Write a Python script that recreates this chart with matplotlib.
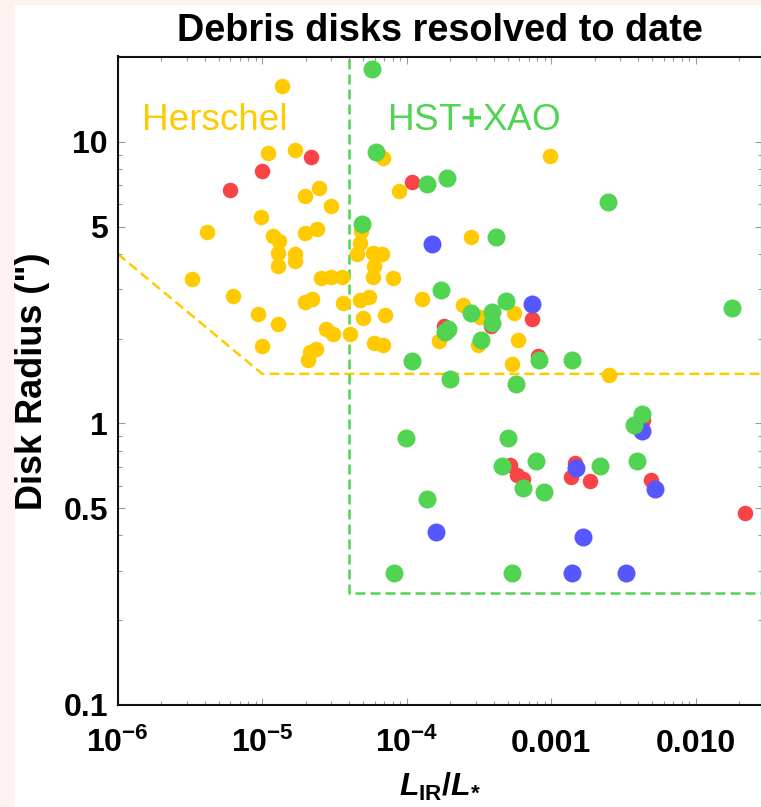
import matplotlib
matplotlib.use("Agg")
import matplotlib.pyplot as plt
from matplotlib.ticker import FixedLocator, FixedFormatter, LogLocator, NullFormatter
from matplotlib.patches import Rectangle

plt.rcParams.update({
    "font.family": ["Liberation Sans", "DejaVu Sans"],
    "font.weight": "bold",
    "mathtext.fontset": "custom",
    "mathtext.rm": "Liberation Sans:bold",
    "mathtext.it": "Liberation Sans:italic:bold",
    "mathtext.bf": "Liberation Sans:bold",
})

# ---- data: fractional luminosity L_IR/L_* and disk radius (arcsec) ----
herschel_x = [1.38e-5, 1.09e-5, 1.69e-5, 2.47e-5, 1.98e-5, 2.98e-5, 9.86e-6, 4.17e-6,
              1.19e-5, 1.31e-5, 1.98e-5, 2.38e-5, 1.28e-5, 1.69e-5, 1.28e-5, 1.69e-5,
              3.28e-6, 2.54e-5, 2.99e-5, 3.58e-5, 6.31e-6, 1.98e-5, 2.20e-5, 3.64e-5,
              9.4e-6, 1.29e-5, 2.76e-5, 3.10e-5, 4.05e-5, 9.92e-6, 2.36e-5, 2.14e-5,
              2.07e-5, 6.85e-5, 4.83e-5, 4.75e-5, 4.53e-5, 5.85e-5, 6.75e-5, 5.97e-5,
              5.85e-5, 8.07e-5, 4.75e-5, 5.51e-5, 4.98e-5, 7.08e-5, 5.97e-5, 6.89e-5,
              8.85e-5, 9.89e-4, 2.77e-4, 1.28e-4, 2.47e-4, 3.21e-4, 1.68e-4, 3.10e-4,
              5.53e-4, 5.89e-4, 5.33e-4, 2.53e-3]
herschel_y = [15.8, 9.16, 9.37, 6.85, 6.43, 5.92, 5.43, 4.79, 4.63, 4.46, 4.75, 4.91,
              4.02, 3.99, 3.63, 3.79, 3.25, 3.28, 3.30, 3.30, 2.84, 2.70, 2.77, 2.67,
              2.45, 2.26, 2.17, 2.07, 2.07, 1.89, 1.84, 1.80, 1.68, 8.78, 4.83, 4.38,
              4.00, 4.04, 3.99, 3.63, 3.30, 3.28, 2.75, 2.82, 2.36, 2.42, 1.93, 1.90,
              6.68, 8.94, 4.59, 2.77, 2.64, 2.38, 1.96, 1.905, 2.46, 1.98, 1.62, 1.48]

red_x = [2.18e-5, 9.92e-6, 5.98e-6, 1.08e-4, 1.81e-4, 3.81e-4, 7.33e-4, 8.15e-4,
         5.19e-4, 5.77e-4, 6.35e-4, 1.46e-3, 1.37e-3, 1.86e-3, 4.34e-3, 4.88e-3, 2.19e-2]
red_y = [8.87, 7.91, 6.75, 7.19, 2.21, 2.21, 2.35, 1.74, 0.712, 0.656, 0.633, 0.722,
         0.644, 0.626, 1.03, 0.630, 0.479]

blue_x = [1.49e-4, 7.33e-4, 1.48e-3, 4.27e-3, 5.23e-3, 1.59e-4, 1.67e-3, 1.39e-3, 3.28e-3]
blue_y = [4.34, 2.65, 0.693, 0.943, 0.584, 0.413, 0.394, 0.294, 0.294]

green_x = [5.78e-5, 6.13e-5, 4.87e-5, 1.39e-4, 1.89e-4, 2.48e-3, 4.15e-4, 1.73e-4,
           4.84e-4, 2.79e-4, 3.87e-4, 3.87e-4, 1.94e-4, 1.84e-4, 3.25e-4, 8.23e-4,
           1.39e-3, 1.09e-4, 1.99e-4, 5.68e-4, 1.77e-2, 9.89e-5, 5.05e-4, 4.59e-4,
           7.82e-4, 6.35e-4, 8.95e-4, 2.18e-3, 4.23e-3, 3.74e-3, 3.94e-3, 1.39e-4,
           8.2e-5, 5.33e-4]
green_y = [18.1, 9.24, 5.11, 7.11, 7.43, 6.12, 4.58, 2.97, 2.72, 2.46, 2.48, 2.27,
           2.17, 2.12, 1.98, 1.68, 1.68, 1.67, 1.44, 1.38, 2.57, 0.886, 0.886, 0.706,
           0.738, 0.589, 0.573, 0.706, 1.08, 0.988, 0.738, 0.539, 0.294, 0.294]

# sensitivity limits of the two surveys
herschel_limit_x = [1e-6, 1e-5, 1e-1]
herschel_limit_y = [4.0, 1.5, 1.5]
hst_limit_x = [4e-5, 4e-5, 1e-1]
hst_limit_y = [40.0, 0.25, 0.25]

x_tick_values = [1e-6, 1e-5, 1e-4, 1e-3, 1e-2]
x_tick_labels = [r"$10^{-6}$", r"$10^{-5}$", r"$10^{-4}$", "0.001", "0.010"]
y_tick_values = [0.1, 0.5, 1, 5, 10]
y_tick_labels = ["0.1", "0.5", "1", "5", "10"]

YELLOW = "#FFCA00"
RED = "#FA4347"
GREEN = "#50D452"
BLUE = "#5757FF"

W, H = 761, 807
fig = plt.figure(figsize=(W / 100, H / 100), dpi=100)
fig.patch.set_facecolor("white")
pink = "#FDF2EF"
fig.patches.append(Rectangle((0, 0), 15 / W, 1, transform=fig.transFigure,
                             facecolor=pink, edgecolor="none", zorder=-5))
fig.patches.append(Rectangle((0, 1 - 5 / H), 1, 5 / H, transform=fig.transFigure,
                             facecolor=pink, edgecolor="none", zorder=-5))

left, right, top, bottom = 117.7, 762.0, 56.5, 705.0
ax = fig.add_axes([left / W, 1 - bottom / H, (right - left) / W, (bottom - top) / H])
ax.set_xscale("log")
ax.set_yscale("log")
ax.set_xlim(1e-6, 10 ** -1.541)
ax.set_ylim(0.1, 20.1)

dash = dict(linestyle=(0, (4, 2)), linewidth=1.8, zorder=1)
ax.plot(herschel_limit_x, herschel_limit_y, color=YELLOW, **dash)
ax.plot(hst_limit_x, hst_limit_y, color=GREEN, **dash)

ax.scatter(herschel_x, herschel_y, s=125, color=YELLOW, linewidths=0, zorder=2)
ax.scatter(red_x, red_y, s=125, color=RED, linewidths=0, zorder=3)
ax.scatter(blue_x, blue_y, s=168, color=BLUE, linewidths=0, zorder=4)
ax.scatter(green_x, green_y, s=168, color=GREEN, linewidths=0, zorder=5)

ax.xaxis.set_major_locator(FixedLocator(x_tick_values))
ax.xaxis.set_major_formatter(FixedFormatter(x_tick_labels))
ax.yaxis.set_major_locator(FixedLocator(y_tick_values))
ax.yaxis.set_major_formatter(FixedFormatter(y_tick_labels))
for axis in (ax.xaxis, ax.yaxis):
    axis.set_minor_locator(LogLocator(base=10, subs=range(1, 10), numticks=20))
    axis.set_minor_formatter(NullFormatter())

ax.tick_params(which="both", direction="in", top=True, right=True,
               color="#9a9a9a", width=0.8, labelsize=23)
ax.tick_params(which="major", length=5)
ax.tick_params(which="minor", length=3)
ax.tick_params(axis="y", which="major", pad=7)
ax.tick_params(axis="x", which="major", pad=33.5)
for tick in ax.xaxis.get_major_ticks():
    tick.label1.set_verticalalignment("baseline")

for sp in ax.spines.values():
    sp.set_linewidth(1.5)
    sp.set_color("#111111")

ax.set_title("Debris disks resolved to date", fontsize=27.3, fontweight="bold", pad=11.5)
ax.set_xlabel(r"$L_{\mathrm{IR}}/L_{*}$", fontsize=23, labelpad=9)
ax.set_ylabel('Disk Radius (")', fontsize=26, fontweight="bold")
ax.yaxis.set_label_coords(-0.1043, 0.5)

ax.text(0.0377, 0.8867, "Herschel", transform=ax.transAxes, fontsize=26.6,
        fontweight="normal", color=YELLOW, va="baseline", ha="left", zorder=6)
ax.text(0.418, 0.8867, r"HST$\mathbf{+}$XAO", transform=ax.transAxes, fontsize=26.6,
        fontweight="normal", color=GREEN, va="baseline", ha="left", zorder=6)

fig.savefig("out.png", dpi=100, facecolor=fig.get_facecolor())
